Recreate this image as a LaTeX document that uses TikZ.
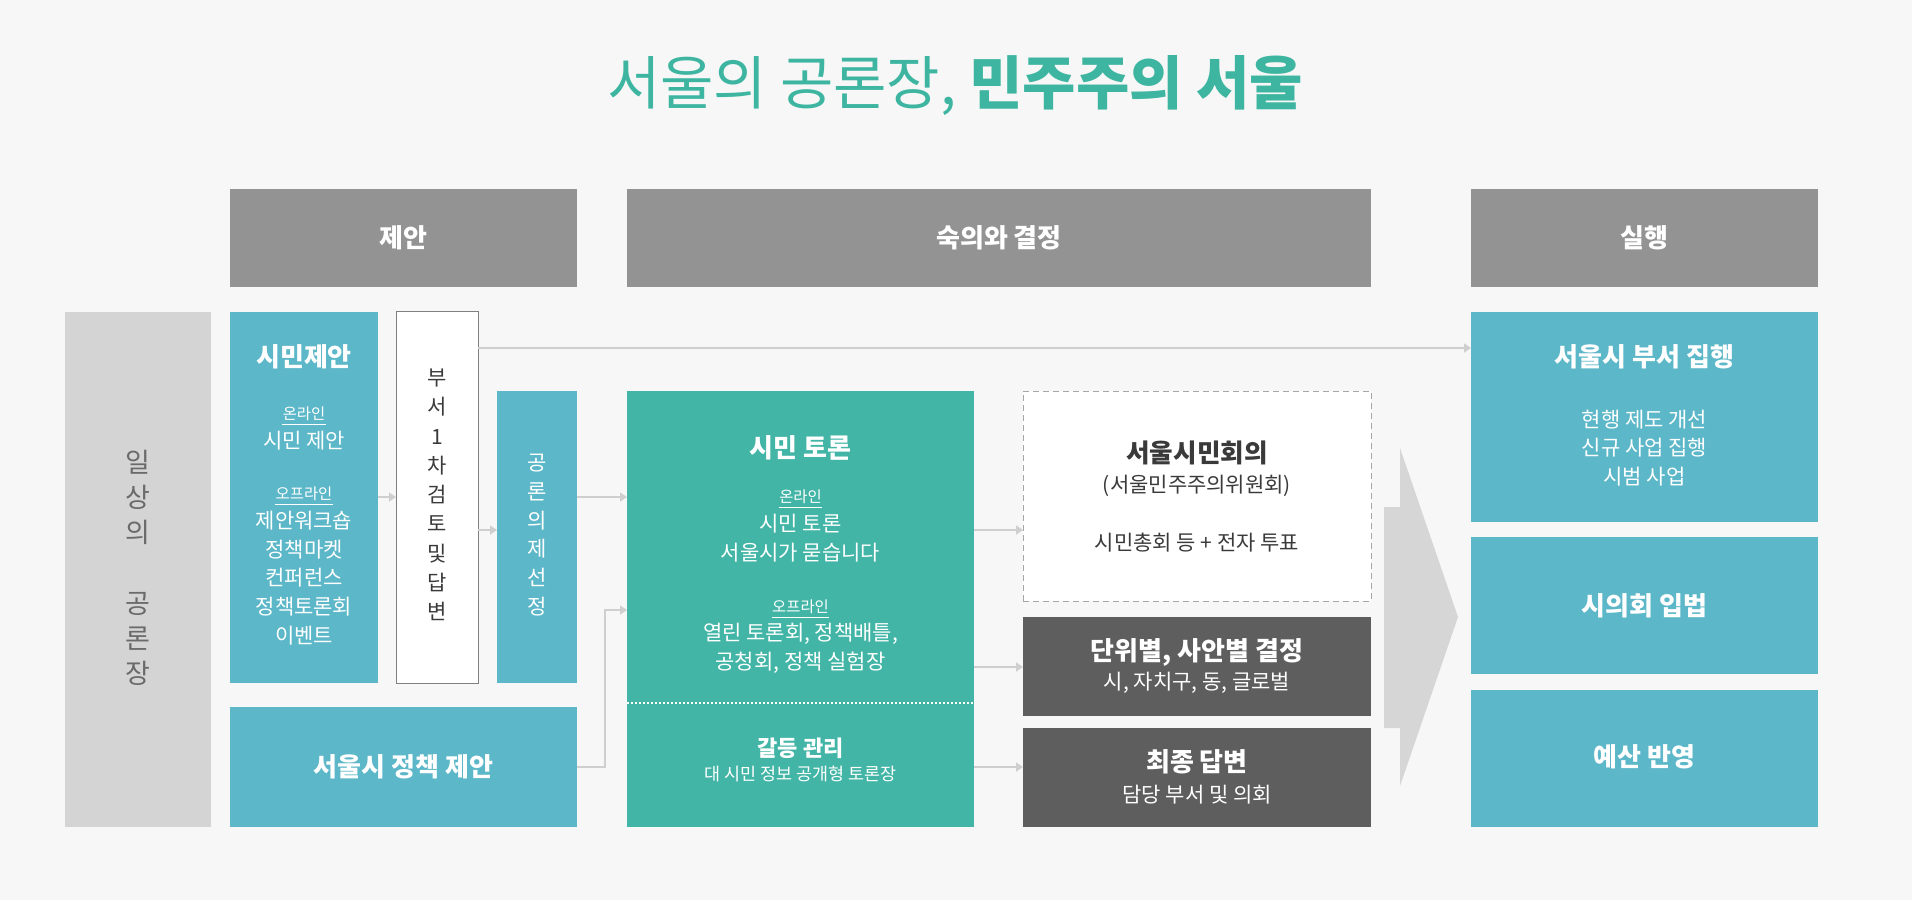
\documentclass[tikz,border=0pt]{standalone}
\usepackage{fontspec}
\setmainfont{Noto Sans CJK KR}
\usetikzlibrary{arrows.meta,fit}
\definecolor{bgcol}{HTML}{F7F7F7}
\definecolor{headgray}{HTML}{939393}
\definecolor{sidegray}{HTML}{D4D4D4}
\definecolor{sidetext}{HTML}{6A6A6A}
\definecolor{skyblue}{HTML}{5CB7C8}
\definecolor{tealbox}{HTML}{42B5A6}
\definecolor{darkbox}{HTML}{5E5E5E}
\definecolor{linkgray}{HTML}{CFCFCF}
\definecolor{bigarrow}{HTML}{D6D6D6}
\definecolor{titleteal}{HTML}{3DB5A0}
\definecolor{inktext}{HTML}{3A3A3A}

\tikzset{
  box/.style={inner sep=0pt, outer sep=0pt},
  headbox/.style={box, fill=headgray},
  bluebox/.style={box, fill=skyblue},
  greenbox/.style={box, fill=tealbox},
  darkbx/.style={box, fill=darkbox},
  link/.style={draw=linkgray, line width=1pt, -{Triangle[length=3.5pt,width=4.5pt]}},
  big/.style={font=\fontsize{13}{16}\selectfont\bfseries, text=white},
  body/.style={font=\fontsize{10.5}{14.4}\selectfont, text=white, align=center},
  tag/.style={font=\fontsize{7.7}{9}\selectfont, text=white, inner sep=0pt},
}

\begin{document}
\begin{tikzpicture}[x=0.5pt,y=-0.5pt]
  \fill[bgcol] (0,0) rectangle (1912,900);
  \useasboundingbox (0,0) rectangle (1912,900);

  % title
  \node[text=titleteal, font=\fontsize{29}{34}\selectfont] (title) at (955,86)
    {서울의 공론장, \textbf{민주주의 서울}};

  % column heads
  \node[headbox, fit={(230,189) (577,287)}] (hjean) {};
  \node[headbox, fit={(627,189) (1371,287)}] (hsuk) {};
  \node[headbox, fit={(1471,189) (1818,287)}] (hsil) {};
  \node[big] (thjean) at (hjean) {제안};
  \node[big] (thsuk) at (hsuk) {숙의와 결정};
  \node[big] (thsil) at (hsil) {실행};

  % everyday forum
  \node[box, fill=sidegray, fit={(65,312) (211,827)}] (ilsang) {};
  \node[text=sidetext, font=\fontsize{13.5}{17.6}\selectfont, align=center] (tilsang)
    at (138,568) {일\\상\\의\\ \\공\\론\\장};

  % citizen proposal
  \node[bluebox, fit={(230,312) (378,683)}] (jean) {};
  \node[big] (tjean) at (304,357) {시민제안};
  \node[tag] (on1) at (304,414) {온라인};
  \draw[white, line width=0.5pt] ([yshift=-1.5pt]on1.south west) -- ([yshift=-1.5pt]on1.south east);
  \node[body] (tjean2) at (304,441) {시민 제안};
  \node[tag] (off1) at (304,494) {오프라인};
  \draw[white, line width=0.5pt] ([yshift=-1.5pt]off1.south west) -- ([yshift=-1.5pt]off1.south east);
  \node[body] (tjean3) at (304,578) {제안워크숍\\정책마켓\\컨퍼런스\\정책토론회\\이벤트};

  % first review
  \node[box, fill=white, draw=gray, line width=0.5pt, fit={(396,311) (478,683)}] (buseo) {};
  \node[text=inktext, font=\fontsize{10.5}{14.65}\selectfont, align=center] (tbuseo)
    at (437,495) {부\\서\\1\\차\\검\\토\\및\\답\\변};

  % agenda selection
  \node[bluebox, fit={(497,391) (577,683)}] (uije) {};
  \node[body, font=\fontsize{10.5}{14.35}\selectfont] (tuije) at (537,535) {공\\론\\의\\제\\선\\정};

  % city policy proposal
  \node[bluebox, fit={(230,707) (577,827)}] (jeongchaek) {};
  \node[big] (tjeongchaek) at (jeongchaek) {서울시 정책 제안};

  % citizen debate
  \node[greenbox, fit={(627,391) (974,827)}] (toron) {};
  \draw[white, line width=0.6pt, dash pattern=on 1pt off 1pt] (toron.west |- 0,703) -- (toron.east |- 0,703);
  \node[big] (ttoron) at (800.5,448) {시민 토론};
  \node[tag] (on2) at (800.5,497) {온라인};
  \draw[white, line width=0.5pt] ([yshift=-1.5pt]on2.south west) -- ([yshift=-1.5pt]on2.south east);
  \node[body] (ttoron2) at (800.5,538) {시민 토론\\서울시가 묻습니다};
  \node[tag] (off2) at (800.5,607) {오프라인};
  \draw[white, line width=0.5pt] ([yshift=-1.5pt]off2.south west) -- ([yshift=-1.5pt]off2.south east);
  \node[body] (ttoron3) at (800.5,648) {열린 토론회, 정책배틀,\\공청회, 정책 실험장};
  \node[font=\fontsize{11}{13}\selectfont\bfseries, text=white] (tgaldeung) at (800.5,748) {갈등 관리};
  \node[font=\fontsize{8.7}{10}\selectfont, text=white] (tgaldeung2) at (800.5,774) {대 시민 정보 공개형 토론장};

  % decision boxes
  \node[box, fill=white, draw=gray!70, line width=0.5pt, dash pattern=on 3pt off 2pt,
    fit={(1023,391) (1371,601)}] (hoeui) {};
  \node[text=inktext, font=\fontsize{12.8}{15}\selectfont\bfseries] (thoeui) at (1197,453) {서울시민회의};
  \node[text=inktext, font=\fontsize{10.5}{13}\selectfont] (thoeui2) at (1197,486) {(서울민주주의위원회)};
  \node[text=inktext, font=\fontsize{10.5}{13}\selectfont] (thoeui3) at (1197,543) {시민총회 등 + 전자 투표};

  \node[darkbx, fit={(1023,617) (1371,716)}] (danwi) {};
  \node[big] (tdanwi) at (1197,652) {단위별, 사안별 결정};
  \node[body] (tdanwi2) at (1197,683) {시, 자치구, 동, 글로벌};

  \node[darkbx, fit={(1023,728) (1371,827)}] (choejong) {};
  \node[big] (tchoejong) at (1197,762) {최종 답변};
  \node[body] (tchoejong2) at (1197,795) {담당 부서 및 의회};

  % big arrow
  \fill[bigarrow] (1384,507) -- (1400,507) -- (1400,448) -- (1458,617)
    -- (1400,786) -- (1400,728) -- (1384,728) -- cycle;

  % execution
  \node[bluebox, fit={(1471,312) (1818,522)}] (jiphaeng) {};
  \node[big] (tjiphaeng) at (1644.5,357) {서울시 부서 집행};
  \node[body] (tjiphaeng2) at (1644.5,448) {현행 제도 개선\\신규 사업 집행\\시범 사업};
  \node[bluebox, fit={(1471,537) (1818,674)}] (ipbeop) {};
  \node[big] (tipbeop) at (ipbeop) {시의회 입법};
  \node[bluebox, fit={(1471,690) (1818,827)}] (yesan) {};
  \node[big] (tyesan) at (1644.5,757) {예산 반영};

  % connectors
  \draw[link] (buseo.east |- 0,348) -- (jiphaeng.west |- 0,348);
  \draw[link] (jean.east |- 0,497) -- (buseo.west |- 0,497);
  \draw[link] (buseo.east |- 0,530) -- (uije.west |- 0,530);
  \draw[link] (uije.east |- 0,497) -- (toron.west |- 0,497);
  \draw[link] (jeongchaek.east) -| (605,610) -- (toron.west |- 0,610);
  \draw[link] (toron.east |- 0,530) -- (hoeui.west |- 0,530);
  \draw[link] (toron.east |- 0,667) -- (danwi.west |- 0,667);
  \draw[link] (toron.east |- 0,767) -- (choejong.west |- 0,767);
\end{tikzpicture}
\end{document}
